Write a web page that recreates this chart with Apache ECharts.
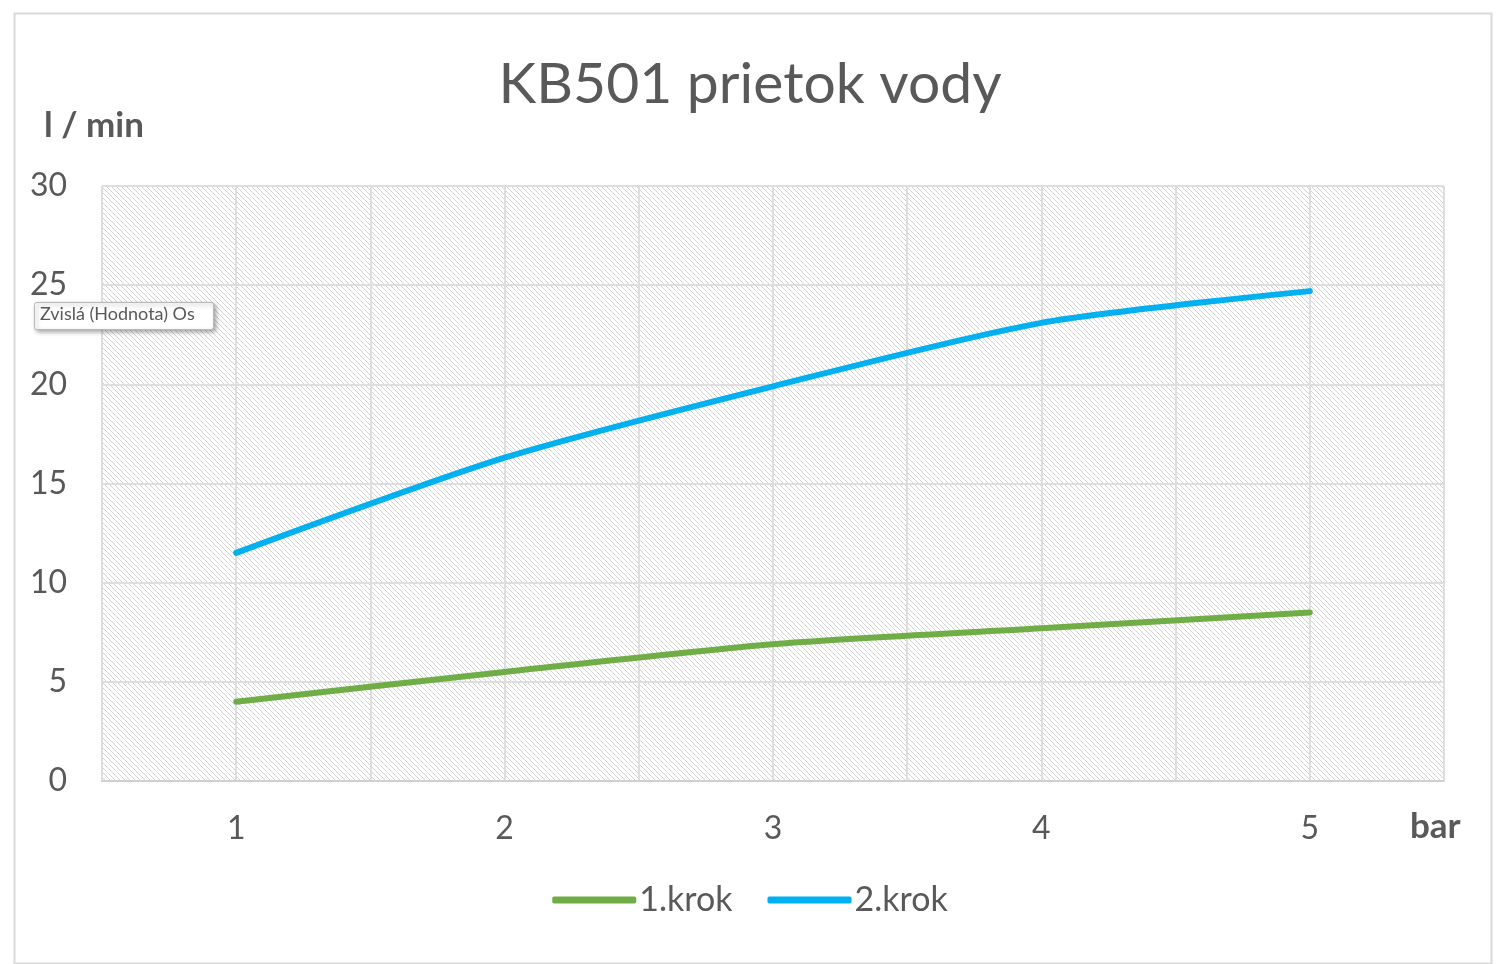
<!DOCTYPE html>
<html>
<head>
<meta charset="utf-8">
<script src="https://cdn.jsdelivr.net/npm/echarts@6/dist/echarts.min.js"></script>
<style>
  html, body { margin: 0; padding: 0; background: #fff; }
  #chart { width: 1500px; height: 964px; }
</style>
</head>
<body>
<div id="chart"></div>
<script>
// tlak v bar (x) a prietok l/min (y)
var pressure = [1, 2, 3, 4, 5];
var krok1 = [4.0, 5.5, 6.9, 7.7, 8.5];
var krok2 = [11.5, 16.3, 19.9, 23.1, 24.7];
var seriesNames = ['1.krok', '2.krok'];
var xTicks = [1, 2, 3, 4, 5];

var textColor = '#595959';
var fontFam = 'Lato, "Open Sans", sans-serif';

// jemne sikme srafovanie pozadia grafu
function hatch() {
    var c = document.createElement('canvas');
    c.width = 5;
    c.height = 5;
    var ctx = c.getContext('2d');
    ctx.fillStyle = '#ffffff';
    ctx.fillRect(0, 0, 5, 5);
    ctx.strokeStyle = '#d2d2d2';
    ctx.lineWidth = 1;
    ctx.beginPath();
    ctx.moveTo(-1, -1); ctx.lineTo(6, 6);
    ctx.moveTo(-1, 4); ctx.lineTo(1, 6);
    ctx.moveTo(4, -1); ctx.lineTo(6, 1);
    ctx.stroke();
    return c;
}

function pairs(xs, ys) {
    return xs.map(function (x, i) { return [x, ys[i]]; });
}

var chart = echarts.init(document.getElementById('chart'));

var option = {
    backgroundColor: '#fff',
    animation: false,
    title: {
        text: 'KB501 prietok vody',
        left: 'center',
        top: 51,
        textStyle: {
            color: textColor,
            fontFamily: fontFam,
            fontWeight: 'normal',
            fontSize: 57
        }
    },
    legend: {
        data: seriesNames,
        bottom: 42,
        left: 'center',
        icon: 'roundRect',
        itemWidth: 84,
        itemHeight: 7,
        itemGap: 35,
        textStyle: {
            color: textColor,
            fontFamily: fontFam,
            fontSize: 34,
            padding: [0, 0, 0, -2]
        }
    },
    grid: {
        left: 102,
        right: 56,
        top: 186,
        bottom: 183,
        show: true,
        borderWidth: 0,
        backgroundColor: { image: hatch(), repeat: 'repeat' }
    },
    xAxis: {
        type: 'value',
        min: 0.5,
        max: 5.5,
        interval: 0.5,
        axisLine: { lineStyle: { color: '#d0d0d0', width: 2 } },
        axisTick: { show: false },
        axisLabel: {
            color: textColor,
            fontFamily: fontFam,
            fontSize: 32,
            margin: 32,
            showMinLabel: false,
            showMaxLabel: false,
            formatter: function (v) {
                return xTicks.indexOf(v) >= 0 ? String(v) : '';
            }
        },
        splitLine: { show: true, lineStyle: { color: '#dedede', width: 2 } }
    },
    yAxis: {
        type: 'value',
        min: 0,
        max: 30,
        interval: 5,
        axisLine: { show: false },
        axisTick: { show: false },
        axisLabel: {
            color: textColor,
            fontFamily: fontFam,
            fontSize: 32,
            margin: 35
        },
        splitLine: { lineStyle: { color: '#dedede', width: 2 } }
    },
    graphic: [
        {
            type: 'rect',
            left: 12, top: 11,
            shape: { width: 1477, height: 950 },
            style: { fill: 'none', stroke: '#d9d9d9', lineWidth: 2 },
            silent: true
        },
        {
            type: 'text',
            left: 44, top: 108,
            style: {
                text: 'l / min',
                fill: textColor,
                font: 'bold 35px ' + fontFam
            }
        },
        {
            type: 'text',
            left: 1410, top: 809,
            style: {
                text: 'bar',
                fill: textColor,
                font: 'bold 35px ' + fontFam
            }
        },
        {
            type: 'rect',
            left: 34, top: 302,
            z: 100,
            shape: { width: 179, height: 27, r: 2 },
            style: {
                fill: '#ffffff',
                stroke: '#b8b8b8',
                lineWidth: 1,
                shadowBlur: 4,
                shadowOffsetX: 2,
                shadowOffsetY: 2,
                shadowColor: 'rgba(0,0,0,0.35)'
            }
        },
        {
            type: 'text',
            left: 40, top: 305,
            z: 101,
            style: {
                text: 'Zvislá (Hodnota) Os',
                fill: textColor,
                font: '18px ' + fontFam
            }
        }
    ],
    series: [
        {
            name: seriesNames[0],
            type: 'line',
            data: pairs(pressure, krok1),
            smooth: 0.25,
            showSymbol: false,
            lineStyle: { color: '#70ad47', width: 6, cap: 'round' },
            itemStyle: { color: '#70ad47' }
        },
        {
            name: seriesNames[1],
            type: 'line',
            data: pairs(pressure, krok2),
            smooth: 0.25,
            showSymbol: false,
            lineStyle: { color: '#00b0f0', width: 6, cap: 'round' },
            itemStyle: { color: '#00b0f0' }
        }
    ]
};

chart.setOption(option);
</script>
</body>
</html>
